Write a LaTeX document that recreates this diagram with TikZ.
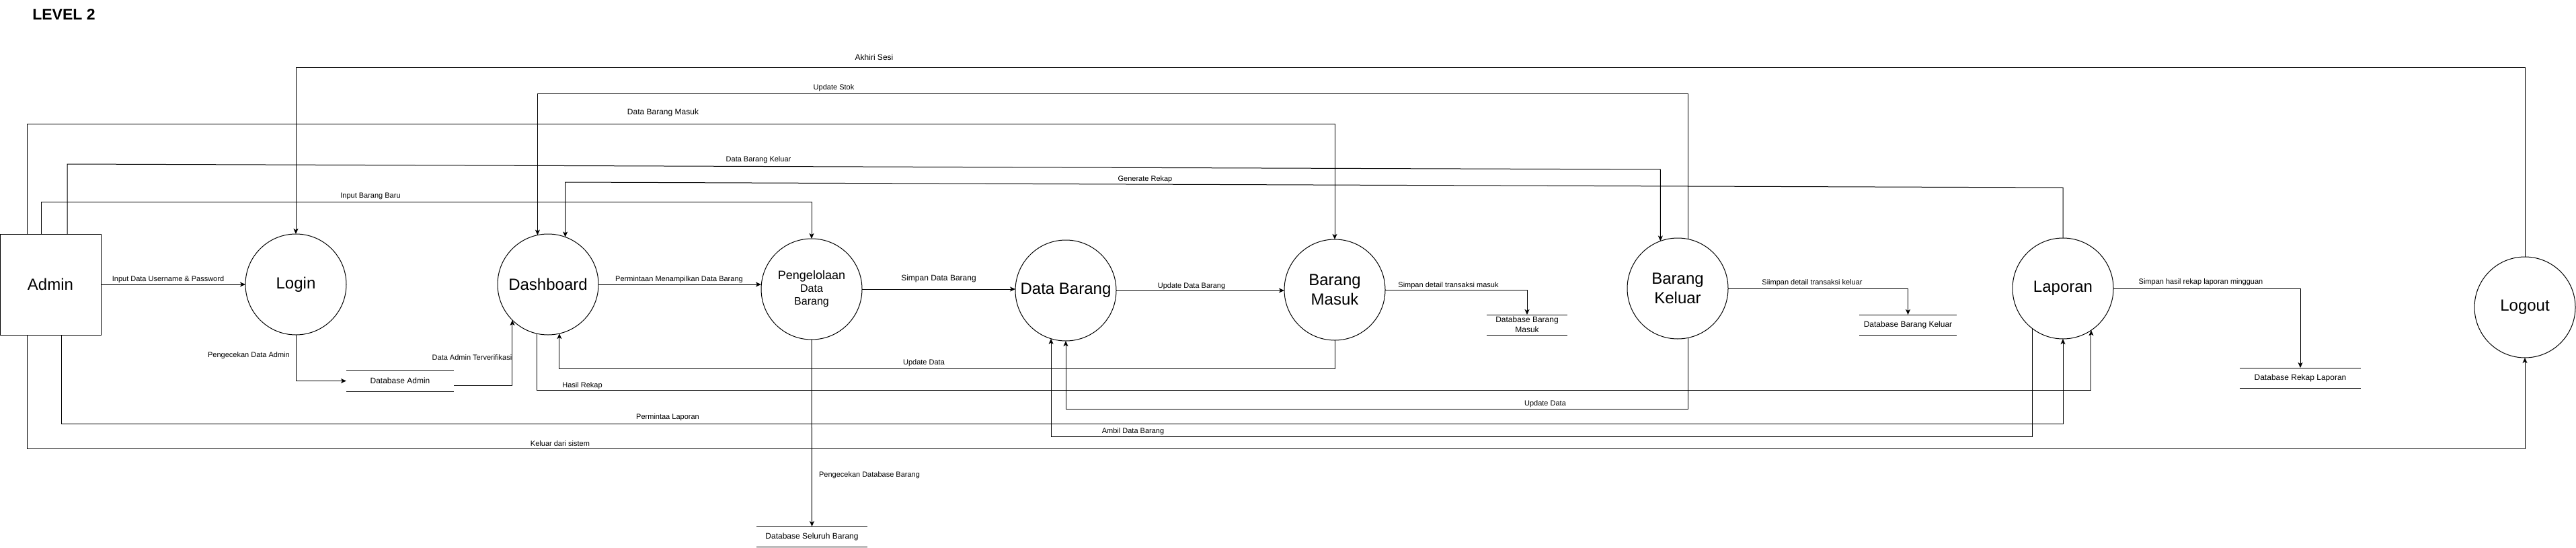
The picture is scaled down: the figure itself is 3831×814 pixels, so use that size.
\documentclass[tikz,border=0pt]{standalone}
\usepackage{fontspec}
\setmainfont{Liberation Sans}
\usetikzlibrary{arrows.meta,calc}
\begin{document}
\begin{tikzpicture}[x=1pt,y=-1pt,
  line width=1pt,
  proc/.style={draw, circle, minimum size=150pt, inner sep=0pt, outer sep=0pt, align=center, font=\fontsize{24}{29}\selectfont},
  ent/.style={draw, rectangle, minimum width=150pt, minimum height=150pt, inner sep=0pt, outer sep=0pt, font=\fontsize{24}{29}\selectfont},
  dstore/.style={inner sep=0pt, outer sep=0pt, minimum height=30pt, align=center, font=\fontsize{12}{15}\selectfont},
  lbl/.style={inner sep=0pt, font=\fontsize{11}{13}\selectfont},
  lblb/.style={inner sep=0pt, font=\fontsize{12}{14}\selectfont},
  arr/.style={-{Stealth[length=8pt,width=7pt,inset=2pt]}},
]
\useasboundingbox (0,0) rectangle (3831,814);
\node[font=\bfseries\fontsize{23}{27}\selectfont, inner sep=0pt] (title) at (95,21) {LEVEL 2};

% entities and processes
\node[ent] (admin) at (75,423) {Admin};
\node[proc] (login) at (440,423) {Login};
\node[proc] (dash) at (815,423) {Dashboard};
\node[proc, font=\fontsize{16}{19}\selectfont] (peng) at (1207,430) {{\fontsize{18}{20}\selectfont Pengelolaan}\\Data\\Barang};
\node[proc] (db) at (1585,432) {Data Barang};
\node[proc] (bm) at (1985,431) {Barang\\Masuk};
\node[proc] (bk) at (2495,429) {Barang\\Keluar};
\node[proc] (lap) at (3068,429) {Laporan};
\node[proc] (logout) at (3755,457) {Logout};

% data stores
\node[dstore, minimum width=160pt, minimum height=31pt] (dba) at (595,566.5) {Database Admin};
\node[dstore, minimum width=120pt] (dbm) at (2271,483) {Database Barang\\Masuk};
\node[dstore, minimum width=145pt] (dbk) at (2837.5,483) {Database Barang Keluar};
\node[dstore, minimum width=180pt] (dbr) at (3421,562) {Database Rekap Laporan};
\node[dstore, minimum width=165pt] (dbs) at (1207.5,798) {Database Seluruh Barang};
\foreach \s in {dba,dbm,dbk,dbr,dbs} {
  \draw (\s.north west) -- (\s.north east) (\s.south west) -- (\s.south east);
}

% top flows
\draw[arr] (logout.north) |- (login.north |- 0,100) -- (login.north);
\draw[arr] (bk.78) |- (dash.102 |- 0,139) -- (dash.102);
\draw[arr] ($(admin.north west)+(40,0)$) |- (bm.north |- 0,184) -- (bm.north);
\draw[arr] ($(admin.north west)+(100,0)$) -- ($(admin.north west)+(100,-104)$) -- (bk.110 |- 0,252) -- (bk.110);
\draw[arr] ($(admin.north west)+(61,0)$) |- (peng.north |- 0,300) -- (peng.north);
\draw[arr] (lap.north) -- (lap.north |- 0,279) -- (dash.70 |- 0,271) -- (dash.70);

% middle flows
\draw[arr] (admin.east) -- (login.west);
\draw[arr] (login.south) |- (dba.west);
\draw[arr] ($(dba.east)+(0,7)$) -| (dash.225);
\draw[arr] (dash.east) -- (dash.east -| peng.west);
\draw[arr] (peng.east) -- (peng.east -| db.west);
\draw[arr] (db.east) -- (db.east -| bm.west);
\draw[arr] (bm.east) -| (dbm.north);
\draw[arr] (bk.east) -| (dbk.north);
\draw[arr] (lap.east) -| (dbr.north);
\draw[arr] (peng.south) -- (dbs.north);

% bottom flows
\draw[arr] (bm.south) |- (dash.283 |- 0,548) -- (dash.283);
\draw[arr] (dash.257) |- (lap.304 |- 0,580) -- (lap.304);
\draw[arr] (bk.282) |- (db.south |- 0,608) -- (db.south);
\draw[arr] ($(admin.south west)+(91,0)$) |- (lap.south |- 0,630) -- (lap.south);
\draw[arr] (lap.233) |- (db.253 |- 0,649) -- (db.253);
\draw[arr] ($(admin.south west)+(40,0)$) |- (logout.south |- 0,667) -- (logout.south);

% labels
\node[lblb] (t1) at (1300,85) {Akhiri Sesi};
\node[lbl] (t2) at (1240,131) {Update Stok};
\node[lblb] (t3) at (986,167) {Data Barang Masuk};
\node[lbl] (t4) at (1128,238) {Data Barang Keluar};
\node[lbl] (t5) at (1703,267) {Generate Rekap};
\node[lbl] (t6) at (551,292) {Input Barang Baru};
\node[lbl] (t7) at (250,416) {Input Data Username \& Password};
\node[lbl] (t8) at (1010,416) {Permintaan Menampilkan Data Barang};
\node[lblb] (t9) at (1396,414) {Simpan Data Barang};
\node[lbl] (t10) at (1772,426) {Update Data Barang};
\node[lbl] (t11) at (2154,425) {Simpan detail transaksi masuk};
\node[lbl] (t12) at (2695,421) {Siimpan detail transaksi keluar};
\node[lbl] (t13) at (3273,420) {Simpan hasil rekap laporan mingguan};
\node[lbl] (t14) at (370,529) {Pengecekan Data Admin};
\node[lbl] (t15) at (702,532) {Data Admin Terverifikasi};
\node[lbl] (t16) at (1293,707) {Pengecekan Database Barang};
\node[lbl] (t17) at (1374,540) {Update Data};
\node[lbl] (t18) at (866,574) {Hasil Rekap};
\node[lbl] (t19) at (2298,601) {Update Data};
\node[lbl] (t20) at (993,621) {Permintaa Laporan};
\node[lbl] (t21) at (1685,642) {Ambil Data Barang};
\node[lbl] (t22) at (833,660) {Keluar dari sistem};
\end{tikzpicture}
\end{document}
